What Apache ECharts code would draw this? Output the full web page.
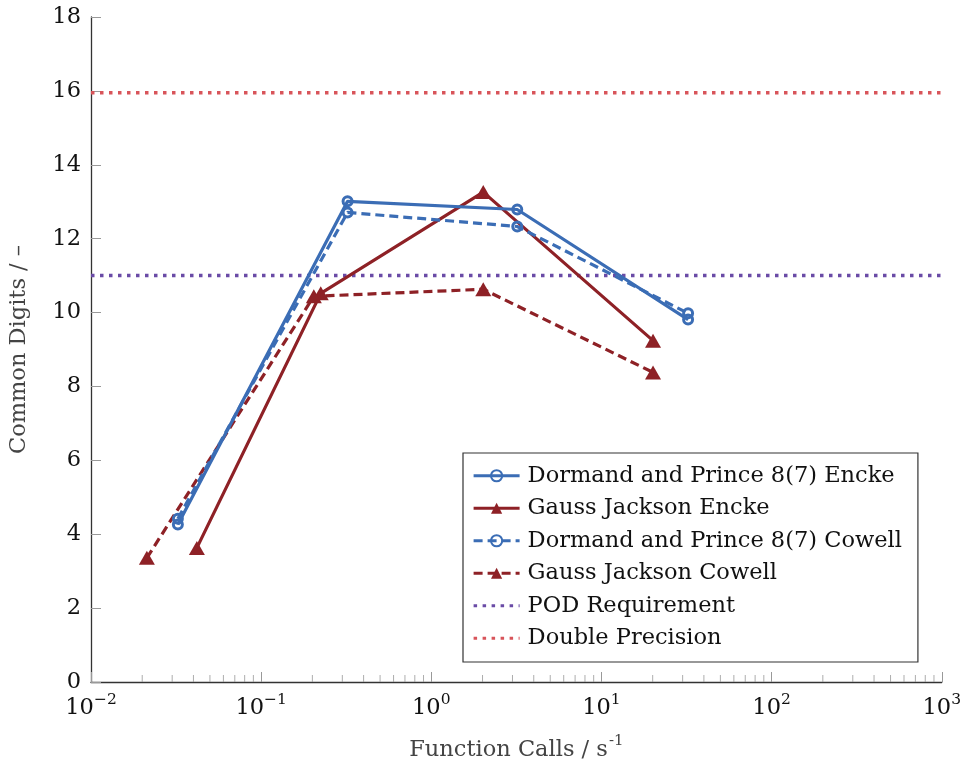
<!DOCTYPE html>
<html>
<head>
<meta charset="utf-8">
<script src="https://cdn.jsdelivr.net/npm/echarts@6/dist/echarts.min.js"></script>
<style>
  html, body { margin: 0; padding: 0; background: #fff; }
  #chart { width: 964px; height: 767px; }
</style>
</head>
<body>
<div id="chart"></div>
<script>
// Function-call rate (s^-1) against common digits for each integrator / formulation
const dpEnckeX = [0.0324, 0.322, 3.2, 32.3];
const dpEnckeY = [4.26, 13.01, 12.79, 9.81];
const gjEnckeX = [0.0419, 0.224, 2.02, 20.1];
const gjEnckeY = [3.63, 10.52, 13.26, 9.24];
const dpCowellX = [0.0324, 0.322, 3.2, 32.3];
const dpCowellY = [4.42, 12.71, 12.33, 9.98];
const gjCowellX = [0.0213, 0.204, 2.02, 20.1];
const gjCowellY = [3.36, 10.44, 10.63, 8.38];

// Reference levels
const podRequirement = 11;
const doublePrecision = 15.95;

// Axis range and decorations
const xRange = [0.01, 1000];
const yTicks = [0, 2, 4, 6, 8, 10, 12, 14, 16, 18];
const xDecadeExponents = [-2, -1, 0, 1, 2, 3];
const minorMultipliers = [2, 3, 4, 5, 6, 7, 8, 9];

const seriesNames = [
  'Dormand and Prince 8(7) Encke',
  'Gauss Jackson Encke',
  'Dormand and Prince 8(7) Cowell',
  'Gauss Jackson Cowell',
  'POD Requirement',
  'Double Precision'
];

const BLUE = '#3b6db5';
const DARKRED = '#8e2126';
const PURPLE = '#6a4ba6';
const LIGHTRED = '#d8545a';
const FONT = 'DejaVu Serif';
const FS = 22.5;

const pairs = (xs, ys) => xs.map((x, i) => [x, ys[i]]);

const minorTicks = [];
xDecadeExponents.slice(0, -1).forEach(e => {
  minorMultipliers.forEach(m => minorTicks.push([m * Math.pow(10, e), 0]));
});

const ringStyle = c => ({ color: 'rgba(255,255,255,0)', borderColor: c, borderWidth: 3 });

const chart = echarts.init(document.getElementById('chart'), null, { renderer: 'canvas' });

const legendData = seriesNames.map((n, i) =>
  i >= 4 ? { name: n, itemStyle: { opacity: 0 } } : { name: n }
);

const option = {
  animation: false,
  backgroundColor: '#ffffff',
  textStyle: { fontFamily: FONT },
  grid: { left: 90, right: 22, top: 17, bottom: 82, containLabel: false },
  xAxis: {
    type: 'log',
    logBase: 10,
    min: xRange[0],
    max: xRange[1],
    name: '{b|Function Calls / s}{s|-1}',
    nameLocation: 'middle',
    nameGap: 52,
    nameTextStyle: {
      rich: {
        b: { fontFamily: FONT, fontSize: FS, color: '#444', lineHeight: 28, verticalAlign: 'bottom' },
        s: { fontFamily: FONT, fontSize: 15, color: '#444', lineHeight: 28, verticalAlign: 'top', padding: [0, 0, 0, 1] }
      }
    },
    axisLine: { show: true, lineStyle: { color: '#333', width: 1.3 } },
    axisTick: { show: true, inside: true, length: 10, lineStyle: { color: '#999', width: 1 } },
    splitLine: { show: false },
    axisLabel: {
      margin: 10,
      formatter: v => {
        const e = Math.round(Math.log10(v));
        return '{b|10}{s|' + (e < 0 ? '\u2212' + (-e) : e) + '}';
      },
      rich: {
        b: { fontFamily: FONT, fontSize: FS, color: '#111', lineHeight: 28, verticalAlign: 'bottom' },
        s: { fontFamily: FONT, fontSize: 15.5, color: '#111', lineHeight: 28, verticalAlign: 'top' }
      }
    }
  },
  yAxis: {
    type: 'value',
    min: yTicks[0],
    max: yTicks[yTicks.length - 1],
    interval: 2,
    name: 'Common Digits / \u2013',
    nameLocation: 'middle',
    nameGap: 60,
    nameRotate: 90,
    nameTextStyle: { fontFamily: FONT, fontSize: FS, color: '#444' },
    axisLine: { show: true, lineStyle: { color: '#333', width: 1.3 } },
    axisTick: { show: true, inside: true, length: 10, lineStyle: { color: '#999', width: 1 } },
    splitLine: { show: false },
    axisLabel: { margin: 10, fontFamily: FONT, fontSize: FS, color: '#111' }
  },
  legend: {
    data: legendData,
    orient: 'vertical',
    left: 463,
    top: 453,
    backgroundColor: '#fff',
    borderColor: '#333',
    borderWidth: 1.2,
    borderRadius: 0,
    padding: [9, 16, 10, 9],
    itemWidth: 46,
    itemHeight: 14,
    itemGap: 5,
    lineStyle: { width: 3.2 },
    textStyle: { fontFamily: FONT, fontSize: FS, color: '#111', lineHeight: 27.5, padding: [0, 0, 0, 3] }
  },
  series: [
    {
      name: seriesNames[0], type: 'line', data: pairs(dpEnckeX, dpEnckeY),
      symbol: 'circle', symbolSize: 9, z: 5,
      lineStyle: { color: BLUE, width: 3.2 }, itemStyle: ringStyle(BLUE)
    },
    {
      name: seriesNames[1], type: 'line', data: pairs(gjEnckeX, gjEnckeY),
      symbol: 'triangle', symbolSize: [16, 14], z: 4,
      lineStyle: { color: DARKRED, width: 3.2 }, itemStyle: { color: DARKRED }
    },
    {
      name: seriesNames[2], type: 'line', data: pairs(dpCowellX, dpCowellY),
      symbol: 'circle', symbolSize: 9, z: 5,
      lineStyle: { color: BLUE, width: 3.2, type: [9, 5] }, itemStyle: ringStyle(BLUE)
    },
    {
      name: seriesNames[3], type: 'line', data: pairs(gjCowellX, gjCowellY),
      symbol: 'triangle', symbolSize: [16, 14], z: 4,
      lineStyle: { color: DARKRED, width: 3.2, type: [9, 5] }, itemStyle: { color: DARKRED }
    },
    {
      name: seriesNames[4], type: 'line', data: [[xRange[0], podRequirement], [xRange[1], podRequirement]],
      symbol: 'none', z: 3,
      lineStyle: { color: PURPLE, width: 3.5, type: [3.5, 5.5] }, itemStyle: { color: PURPLE }
    },
    {
      name: seriesNames[5], type: 'line', data: [[xRange[0], doublePrecision], [xRange[1], doublePrecision]],
      symbol: 'none', z: 3,
      lineStyle: { color: LIGHTRED, width: 3.5, type: [3.5, 5.5] }, itemStyle: { color: LIGHTRED }
    },
    {
      // minor log ticks along the bottom axis
      name: 'minorTicks', type: 'scatter', data: minorTicks, silent: true, clip: false, z: 1,
      symbol: 'rect', symbolSize: [1, 7], symbolOffset: [0, -3.5],
      itemStyle: { color: '#999' }
    }
  ]
};

chart.setOption(option);
</script>
</body>
</html>
